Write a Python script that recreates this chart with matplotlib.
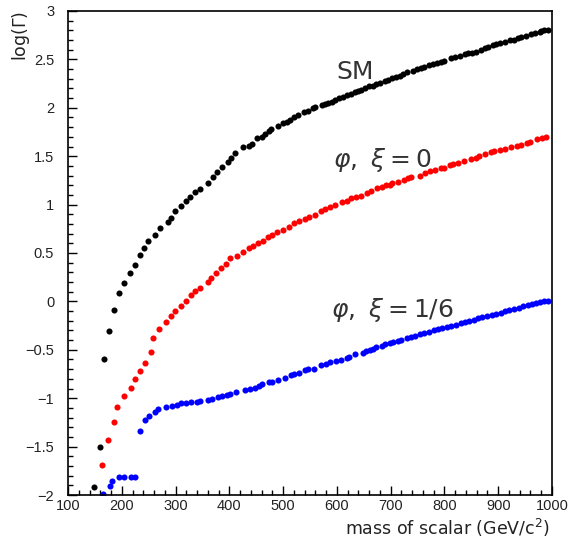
import matplotlib
matplotlib.use("Agg")
import matplotlib.pyplot as plt
from matplotlib.ticker import MultipleLocator, FuncFormatter

plt.rcParams["font.family"] = ["Liberation Sans", "DejaVu Sans"]

# SM width (black)
sm_mass = [148, 159, 166, 177, 185, 195, 205, 215, 224, 233, 242, 249, 262, 271, 285, 291,
           299, 311, 320, 327, 337, 346, 361, 370, 377, 386, 397, 403, 411, 425, 437, 442,
           452, 461, 466, 473, 478, 490, 500, 508, 512, 521, 528, 539, 546, 556, 560, 572,
           577, 583, 591, 596, 603, 611, 619, 626, 633, 639, 645, 652, 660, 667, 673, 681,
           689, 695, 702, 710, 717, 723, 731, 741, 749, 756, 762, 771, 779, 786, 794, 800,
           812, 819, 828, 838, 844, 851, 859, 868, 875, 881, 890, 896, 903, 912, 921, 929,
           937, 943, 952, 961, 968, 977, 980, 986, 992]
sm_logw = [-1.92, -1.50, -0.59, -0.31, -0.09, 0.09, 0.19, 0.29, 0.38, 0.48, 0.55, 0.62, 0.69,
           0.76, 0.82, 0.865, 0.93, 0.99, 1.04, 1.08, 1.13, 1.16, 1.22, 1.29, 1.34, 1.39,
           1.44, 1.48, 1.53, 1.59, 1.605, 1.63, 1.685, 1.695, 1.73, 1.76, 1.78, 1.815, 1.84,
           1.855, 1.87, 1.91, 1.93, 1.96, 1.97, 1.995, 2.01, 2.03, 2.04, 2.05, 2.06, 2.08,
           2.10, 2.115, 2.13, 2.14, 2.16, 2.17, 2.18, 2.20, 2.22, 2.23, 2.245, 2.26, 2.28,
           2.29, 2.305, 2.32, 2.33, 2.345, 2.367, 2.377, 2.40, 2.41, 2.425, 2.44, 2.45, 2.46,
           2.47, 2.487, 2.51, 2.52, 2.54, 2.556, 2.563, 2.57, 2.58, 2.60, 2.615, 2.63, 2.645,
           2.66, 2.666, 2.683, 2.697, 2.705, 2.717, 2.73, 2.74, 2.76, 2.77, 2.783, 2.797,
           2.80, 2.807]

# phi, xi = 0 (red)
xi0_mass = [164, 174, 185, 192, 204, 218, 225, 234, 243, 254, 258, 269, 283, 291, 299, 311,
            319, 328, 337, 345, 361, 366, 376, 384, 394, 401, 415, 425, 436, 444, 453, 463,
            472, 479, 489, 500, 511, 521, 530, 540, 549, 559, 570, 578, 588, 597, 609, 619,
            627, 636, 645, 656, 664, 675, 683, 692, 698, 702, 714, 725, 732, 738, 754, 763,
            773, 783, 794, 799, 810, 816, 826, 837, 849, 859, 865, 875, 887, 893, 904, 912,
            923, 934, 943, 954, 960, 973, 981, 989]
xi0_logw = [-1.69, -1.435, -1.25, -1.09, -0.98, -0.895, -0.80, -0.716, -0.64, -0.52, -0.378,
            -0.29, -0.213, -0.15, -0.096, -0.044, 0.005, 0.063, 0.104, 0.142, 0.20, 0.245,
            0.29, 0.34, 0.383, 0.445, 0.472, 0.51, 0.548, 0.575, 0.60, 0.627, 0.662, 0.686,
            0.714, 0.737, 0.765, 0.807, 0.83, 0.85, 0.87, 0.896, 0.93, 0.955, 0.972, 1.0,
            1.024, 1.04, 1.065, 1.08, 1.09, 1.117, 1.14, 1.168, 1.185, 1.205, 1.203, 1.22,
            1.237, 1.254, 1.27, 1.29, 1.30, 1.33, 1.344, 1.36, 1.375, 1.38, 1.406, 1.416,
            1.43, 1.447, 1.474, 1.48, 1.50, 1.52, 1.54, 1.55, 1.565, 1.574, 1.595, 1.605,
            1.62, 1.64, 1.647, 1.675, 1.685, 1.70]

# phi, xi = 1/6 (blue)
xi16_mass = [165, 178, 182, 195, 205, 217, 225, 234, 243, 251, 261, 267, 282, 293, 303, 311,
             320, 328, 339, 346, 360, 368, 379, 386, 395, 401, 413, 429, 438, 447, 455, 461,
             473, 480, 491, 504, 514, 520, 530, 541, 546, 557, 571, 579, 587, 599, 607, 618,
             623, 633, 649, 655, 661, 667, 672, 683, 690, 698, 705, 713, 720, 730, 738, 745,
             755, 762, 771, 780, 788, 796, 805, 812, 822, 830, 838, 846, 855, 862, 870, 880,
             888, 895, 905, 913, 920, 930, 938, 946, 955, 962, 970, 978, 985, 992]
xi16_logw = [-1.99, -1.904, -1.856, -1.814, -1.817, -1.817, -1.814, -1.34, -1.23, -1.18,
             -1.14, -1.115, -1.094, -1.08, -1.07, -1.053, -1.05, -1.043, -1.04, -1.03, -1.02,
             -1.008, -0.99, -0.98, -0.964, -0.96, -0.94, -0.918, -0.905, -0.898, -0.877,
             -0.853, -0.836, -0.83, -0.81, -0.788, -0.76, -0.747, -0.743, -0.71, -0.70,
             -0.695, -0.66, -0.647, -0.63, -0.62, -0.605, -0.585, -0.574, -0.547, -0.533,
             -0.516, -0.505, -0.49, -0.475, -0.46, -0.443, -0.43, -0.42, -0.405, -0.395,
             -0.38, -0.365, -0.355, -0.34, -0.33, -0.315, -0.30, -0.29, -0.275, -0.265, -0.25,
             -0.24, -0.225, -0.215, -0.20, -0.19, -0.175, -0.165, -0.15, -0.14, -0.125,
             -0.115, -0.10, -0.09, -0.075, -0.065, -0.05, -0.04, -0.03, -0.02, -0.01, 0.0,
             0.005]


def fmt(v, pos):
    s = "%g" % v
    return s.replace("-", "\u2212")


fig = plt.figure(figsize=(5.75, 5.41), dpi=100)
ax = fig.add_axes([0.1183, 0.085, 0.8417, 0.8947])

ax.plot(sm_mass, sm_logw, "o", color="black", ms=4.4, mew=0)
ax.plot(xi0_mass, xi0_logw, "o", color="#ff0000", ms=4.4, mew=0)
ax.plot(xi16_mass, xi16_logw, "o", color="#0000ff", ms=4.4, mew=0)

ax.set_xlim(100, 1000)
ax.set_ylim(-2, 3)
ax.xaxis.set_major_locator(MultipleLocator(100))
ax.xaxis.set_minor_locator(MultipleLocator(20))
ax.yaxis.set_major_locator(MultipleLocator(0.5))
ax.yaxis.set_minor_locator(MultipleLocator(0.1))
ax.yaxis.set_major_formatter(FuncFormatter(fmt))
ax.tick_params(which="both", direction="in", top=False, right=False, labelsize=10.5,
               labelcolor="#222222")
ax.tick_params(axis="y", pad=10)
ax.tick_params(axis="x", pad=3)
ax.tick_params(which="major", length=6.5, width=1)
ax.tick_params(which="minor", length=3.3, width=1)
for sp in ax.spines.values():
    sp.set_linewidth(1.2)

tkw = dict(fontsize=18, ha="center", va="center", color="#333333", family="DejaVu Sans")
ax.text(634, 2.37, "SM", **tkw)
ax.text(684, 1.46, r"$\varphi,\ \xi = 0$", **tkw)
ax.text(704, -0.09, r"$\varphi,\ \xi = 1/6$", **tkw)

ax.set_xlabel("mass of scalar (GeV/c$^2$)", fontsize=12.5, loc="right",
              family="DejaVu Sans", color="#222222")
ax.xaxis.set_label_coords(0.996, -0.045)
ax.set_ylabel(r"log($\Gamma$)", fontsize=12.5, loc="top",
              family="DejaVu Sans", color="#222222")
ax.yaxis.set_label_coords(-0.074, 1.0)

fig.savefig("out.png", dpi=100)
